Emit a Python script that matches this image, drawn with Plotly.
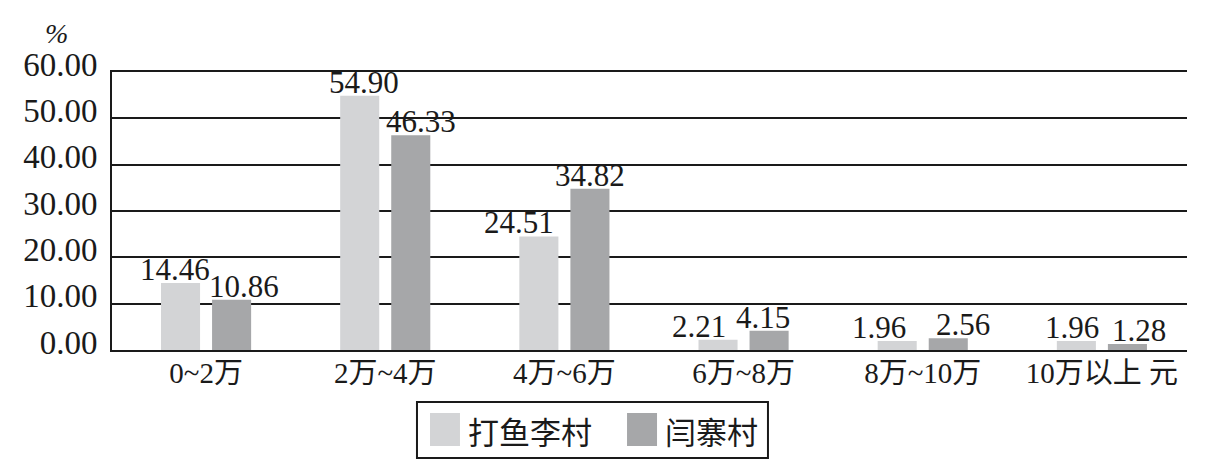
import plotly.graph_objects as go

categories = ["0~2万", "2万~4万", "4万~6万", "6万~8万", "8万~10万", "10万以上"]
tick_labels = ["0~2万", "2万~4万", "4万~6万", "6万~8万", "8万~10万", "10万以上 元"]
dayuli = [14.46, 54.90, 24.51, 2.21, 1.96, 1.96]
yanzhai = [10.86, 46.33, 34.82, 4.15, 2.56, 1.28]
series_names = ["打鱼李村", "闫寨村"]
series_colors = ["#d3d4d6", "#a6a7a9"]
y_ticks = [0, 10, 20, 30, 40, 50, 60]

# styling: horizontal nudges (px) of value labels, as placed in the source figure
label_nudge = [[-5.5, 4.5, -20, -19.5, -18, -4], [12, 10.5, 0, -6.5, 15, 12]]
bar_offset_px = [-25.5, 25.5]

SERIF = "Liberation Serif, Noto Sans CJK SC, serif"
CJK = "Noto Sans CJK SC, sans-serif"
INK = "#1a1a1a"

fig = go.Figure()
annotations = []
for k, (name, vals, col) in enumerate(zip(series_names, [dayuli, yanzhai], series_colors)):
    fig.add_trace(go.Bar(
        x=categories, y=vals, name=name, marker=dict(color=col, line=dict(width=0)),
    ))
    for i, (c, v) in enumerate(zip(categories, vals)):
        annotations.append(dict(text=f"{v:.2f}", x=c, y=v, xref="x", yref="y",
                                xanchor="center", yanchor="bottom", showarrow=False,
                                xshift=bar_offset_px[k] + label_nudge[k][i], yshift=-6,
                                font=dict(family=SERIF, size=31, color=INK)))

# manual legend (box, swatches, labels) in paper coordinates
shapes = [dict(type="rect", xref="paper", yref="paper", x0=0.2837, x1=0.6102, y0=-0.3885, y1=-0.187,
               line=dict(color=INK, width=2), fillcolor="white")]
for i, (name, col) in enumerate(zip(series_names, series_colors)):
    x0 = [0.2958, 0.4791][i]
    shapes.append(dict(type="rect", xref="paper", yref="paper", x0=x0, x1=x0 + 0.0279,
                       y0=-0.3453, y1=-0.2266, line=dict(width=0), fillcolor=col))
    annotations.append(dict(text=name, xref="paper", yref="paper", x=x0 + 0.0335, y=-0.2878,
                            xanchor="left", yanchor="middle", showarrow=False,
                            font=dict(family=CJK, size=31, color=INK)))
annotations.append(dict(text="<i>%</i>", xref="paper", yref="paper", x=-0.052, y=1.14,
                        xanchor="center", yanchor="middle", showarrow=False,
                        font=dict(family=SERIF, size=28, color=INK)))

fig.update_layout(
    width=1225, height=474,
    margin=dict(l=104, r=46, t=64, b=132),
    paper_bgcolor="white", plot_bgcolor="white",
    barmode="group", bargap=0.43, bargroupgap=0.235,
    font=dict(family=SERIF, color=INK),
    showlegend=False,
    shapes=shapes, annotations=annotations,
)

fig.update_yaxes(range=[0, 60], tickvals=y_ticks, tickformat=".2f",
                 showgrid=True, gridcolor=INK, gridwidth=2,
                 showline=True, linecolor=INK, linewidth=2,
                 zeroline=False, ticks="", automargin=False, ticklabelshift=-8,
                 ticklabelstandoff=6,
                 tickfont=dict(family=SERIF, size=33, color=INK))
fig.update_xaxes(range=[-0.525, 5.475], tickvals=categories, ticktext=tick_labels,
                 showline=True, mirror=True, linecolor=INK, linewidth=2, ticks="", automargin=False,
                 ticklabelstandoff=-4,
                 tickfont=dict(family=SERIF, size=29, color=INK))

fig.write_html("out.html")
